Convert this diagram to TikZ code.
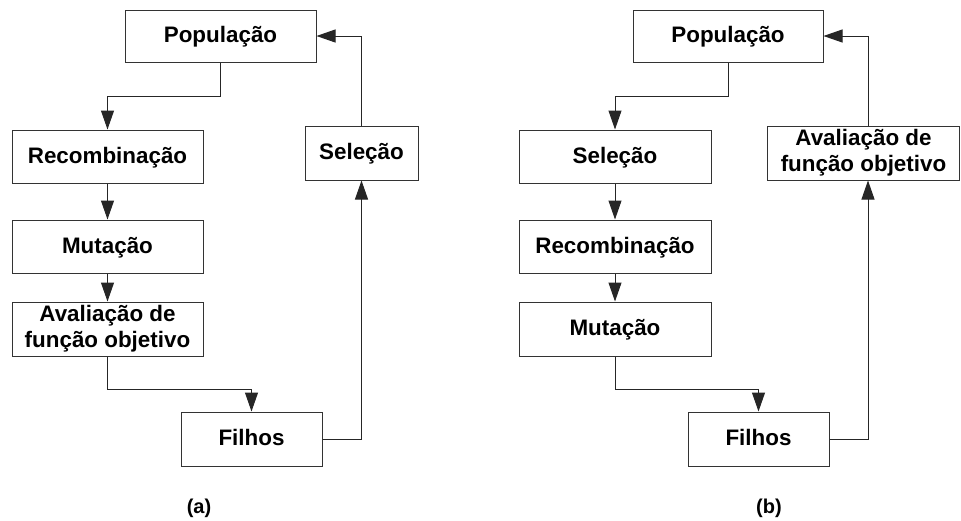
\documentclass[tikz,border=0pt]{standalone}
\usepackage{fontspec}
\setmainfont{Liberation Sans}
\usetikzlibrary{arrows.meta}
\begin{document}
\begin{tikzpicture}[x=1pt,y=-1pt,
  every node/.style={font=\fontsize{22.4}{26}\selectfont\bfseries},
  stage/.style={draw=black!80, line width=1pt, inner sep=0pt, align=center, anchor=center},
  oneline/.style={stage, text height=16.4pt, text depth=3.3pt},
  flow/.style={draw=black!85, line width=1pt, -{Triangle[length=19pt,width=13pt]}},
  caption/.style={font=\fontsize{20}{24}\selectfont\bfseries}]
\useasboundingbox (0,0) rectangle (961,520);

% (a) evaluation after mutation
\node[oneline, minimum width=191pt, minimum height=52pt] (pa) at (220.5,36) {População};
\node[oneline, minimum width=191pt, minimum height=53pt] (ra) at (107.5,156.5) {Recombinação};
\node[oneline, minimum width=191pt, minimum height=53pt] (ma) at (107.5,246.5) {Mutação};
\node[stage, minimum width=191pt, minimum height=54pt] (aa) at (107.5,329) {Avaliação de\\função objetivo};
\node[oneline, minimum width=141pt, minimum height=54pt] (fa) at (251.5,439) {Filhos};
\node[oneline, minimum width=113pt, minimum height=54pt] (sa) at (361.5,153) {Seleção};
\node[caption] (capa) at (199,508) {(a)};

\draw[flow] (pa.south) -- ++(0,34) -| (ra.north);
\draw[flow] (ra.south) -- (ma.north);
\draw[flow] (ma.south) -- (aa.north);
\draw[flow] (aa.south) -- ++(0,33) -| (fa.north);
\draw[flow] (fa.east) -| (sa.south);
\draw[flow] (sa.north) |- (pa.east);

% (b) evaluation of the offspring
\node[oneline, minimum width=190pt, minimum height=52pt] (pb) at (728,36) {População};
\node[oneline, minimum width=192pt, minimum height=53pt] (sb) at (615,156.5) {Seleção};
\node[oneline, minimum width=192pt, minimum height=53pt] (rb) at (615,246.5) {Recombinação};
\node[oneline, minimum width=192pt, minimum height=54pt] (mb) at (615,329) {Mutação};
\node[oneline, minimum width=141pt, minimum height=54pt] (fb) at (758.5,439) {Filhos};
\node[stage, minimum width=192pt, minimum height=54pt] (ab) at (863.5,153) {Avaliação de\\função objetivo};
\node[caption] (capb) at (769,508) {(b)};
\coordinate (abin) at ([xshift=4.5pt]ab.south);
\coordinate (about) at ([xshift=4.5pt]ab.north);

\draw[flow] (pb.south) -- ++(0,34) -| (sb.north);
\draw[flow] (sb.south) -- (rb.north);
\draw[flow] (rb.south) -- (mb.north);
\draw[flow] (mb.south) -- ++(0,33) -| (fb.north);
\draw[flow] (fb.east) -| (abin);
\draw[flow] (about) |- (pb.east);
\end{tikzpicture}
\end{document}
